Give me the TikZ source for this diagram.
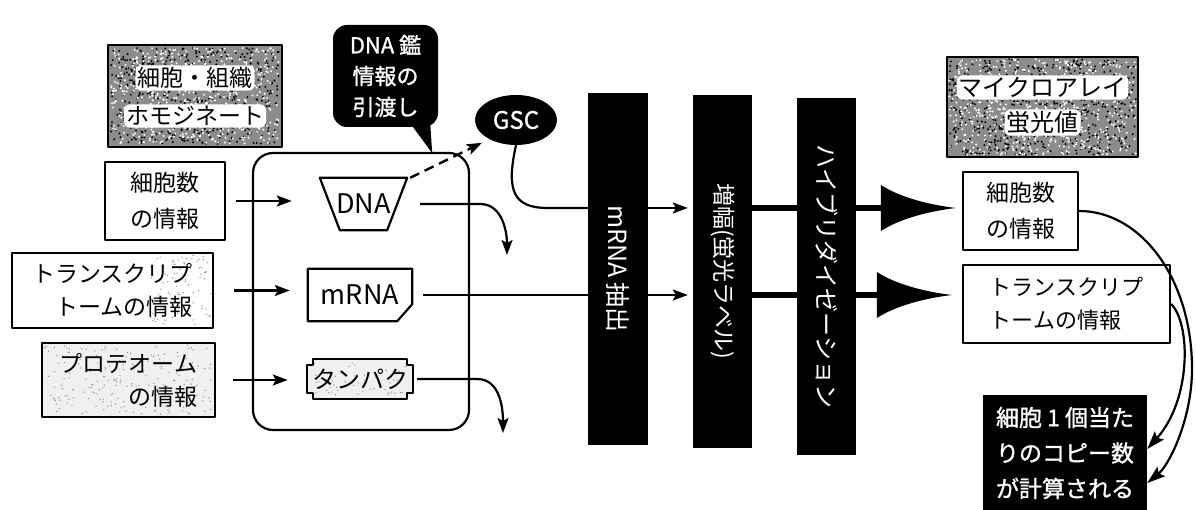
\documentclass[tikz,border=0pt]{standalone}
\usepackage{fontspec}
\setmainfont{Noto Sans CJK JP}
\newfontfamily\jpbold{Noto Sans CJK JP}[FakeBold=1.2]
\usetikzlibrary{arrows.meta,calc,shapes.geometric}
\pgfdeclarelayer{bg}
\pgfsetlayers{bg,main}
\newcommand{\speckle}[7]{%
  \foreach \k in {1,...,#5}{%
    \pgfmathsetmacro{\sxx}{#1+rnd*(#3-#1)}%
    \pgfmathsetmacro{\syy}{#2+rnd*(#4-#2)}%
    \fill[#6] (\sxx,\syy) circle[radius=#7];}}
\begin{document}
\begin{tikzpicture}[x=1pt,y=1pt,line join=round,
  bord/.style={draw=black,line width=2.2pt},
  box/.style={draw=black,line width=2.2pt,fill=white,inner sep=0pt,align=center,font=\fontsize{23}{35}\selectfont},
  plate/.style={fill=white,rounded corners=6pt,inner sep=2pt},
  bar/.style={fill=black,inner sep=0pt,minimum width=60pt},
  bartext/.style={text=white,rotate=-90,inner sep=0pt,font=\fontsize{23}{28}\selectfont},
  arr/.style={line width=2.2pt,-{Stealth[length=15pt,width=11pt,inset=3pt]}},
  arrtwo/.style={line width=2.2pt,-{Stealth[length=18pt,width=12pt,inset=3pt]}},
  heavy/.style={line width=5.5pt}]
\pgfmathsetseed{7}
\useasboundingbox (0,0) rectangle (1196,509);
\begin{pgfonlayer}{bg}
  \fill[white] (0,0) rectangle (1196,509);
\end{pgfonlayer}

% --- homogenate label box
\node[fill=black!45,inner sep=0pt,minimum width=174pt,minimum height=102pt] (homo) at (195,413) {};
\speckle{111}{365}{279}{461}{550}{black}{1.1pt}
\speckle{111}{365}{279}{461}{550}{white}{1.1pt}
\draw[bord] (homo.south west) rectangle (homo.north east);
\node[plate,font=\fontsize{23}{30}\selectfont] at ($(homo.center)+(0,18)$) {細胞・組織};
\node[plate,font=\fontsize{23}{30}\selectfont] at ($(homo.center)+(0,-20)$) {ホモジネート};

% --- speech bubble
\node[fill=black,rounded corners=14pt,minimum width=105pt,minimum height=102pt,inner sep=0pt,
      text=white,align=center,font=\jpbold\fontsize{22}{31}\selectfont] (bub) at (385.5,433) {DNA 鑑\\情報の\\引渡し};
\fill ([shift={(-28pt,4pt)}]bub.south east) -- ([shift={(-8pt,4pt)}]bub.south east) -- ([shift={(-6pt,-26pt)}]bub.south east) -- cycle;

% --- GSC
\node[ellipse,fill=black,minimum width=82pt,minimum height=50pt,inner sep=0pt,text=white,
      font=\jpbold\fontsize{24}{28}\selectfont] (gsc) at (516,389) {GSC};

% --- big rounded box
\node[draw=black,line width=2.2pt,rounded corners=20pt,minimum width=216pt,minimum height=277pt] (boxB) at (361,217.5) {};

% --- left info boxes
\node[box,minimum width=120pt,minimum height=78pt,font=\fontsize{23}{36}\selectfont] (cC) at (165,308) {細胞数\\の情報};
\node[box,fill=none,minimum width=201pt,minimum height=75pt,align=right,font=\fontsize{23}{33}\selectfont] (cD) at (112.5,218.5) {トランスクリプ\\トームの情報};
\node[box,fill=none,minimum width=173pt,minimum height=74pt,align=right,font=\fontsize{23}{33}\selectfont] (cE) at (128.5,129) {プロテオーム\\の情報};

% --- inner molecules
\node[inner sep=0pt,minimum width=87pt,minimum height=52pt,font=\fontsize{27}{30}\selectfont] (dna) at (363.5,305) {DNA};
\node[inner sep=0pt,minimum width=104pt,minimum height=52pt,font=\fontsize{27}{30}\selectfont] (mrna) at (360,214) {mRNA};
\node[inner sep=0pt,minimum width=106pt,minimum height=40pt,font=\fontsize{24}{28}\selectfont] (prot) at (360,130) {タンパク};

\begin{pgfonlayer}{bg}
  \fill[white] (cD.south west) rectangle (cD.north east);
  \speckle{150}{184}{211}{254}{90}{black!45}{0.7pt}
  \fill[gray!12] (cE.south west) rectangle (cE.north east);
  \speckle{44}{94}{213}{164}{200}{black!45}{0.7pt}
  \fill[gray!12] ([xshift=6pt]prot.north west) -- ([xshift=-6pt]prot.north east) -- ([shift={(-6pt,-6pt)}]prot.north east) -- ([yshift=-6pt]prot.north east) -- ([yshift=6pt]prot.south east) -- ([shift={(-6pt,6pt)}]prot.south east) -- ([xshift=-6pt]prot.south east) -- ([xshift=6pt]prot.south west) -- ([shift={(6pt,6pt)}]prot.south west) -- ([yshift=6pt]prot.south west) -- ([yshift=-6pt]prot.north west) -- ([shift={(6pt,-6pt)}]prot.north west) -- cycle;
  \speckle{314}{114}{406}{146}{50}{black!45}{0.7pt}
\end{pgfonlayer}
\draw[bord] (dna.north west) -- (dna.north east) -- ([xshift=-20pt]dna.south east) -- ([xshift=20pt]dna.south west) -- cycle;
\draw[bord] (mrna.north west) -- (mrna.north east) -- ([yshift=17pt]mrna.south east) -- ([xshift=-15pt]mrna.south east) -- (mrna.south west) -- cycle;
\draw[bord] ([xshift=6pt]prot.north west) -- ([xshift=-6pt]prot.north east) -- ([shift={(-6pt,-6pt)}]prot.north east) -- ([yshift=-6pt]prot.north east) -- ([yshift=6pt]prot.south east) -- ([shift={(-6pt,6pt)}]prot.south east) -- ([xshift=-6pt]prot.south east) -- ([xshift=6pt]prot.south west) -- ([shift={(6pt,6pt)}]prot.south west) -- ([yshift=6pt]prot.south west) -- ([yshift=-6pt]prot.north west) -- ([shift={(6pt,-6pt)}]prot.north west) -- cycle;

% --- process bars
\node[bar,minimum height=352pt] (bar1) at (618,240) {};
\node[bartext,font=\fontsize{25}{28}\selectfont] at (bar1) {mRNA 抽出};
\node[bar,minimum width=59pt,minimum height=353pt] (bar2) at (722.5,237.5) {};
\node[bartext] at (bar2) {増幅(蛍光ラベル)};
\node[bar,minimum width=59pt,minimum height=357pt] (bar3) at (826.5,232.5) {};
\node[bartext,font=\fontsize{24}{28}\selectfont] at (bar3) {ハイブリダイゼーション};

% --- microarray label box
\node[fill=black!45,inner sep=0pt,minimum width=191pt,minimum height=100pt] (mic) at (1042.5,402) {};
\speckle{949}{354}{1136}{450}{600}{black}{1.1pt}
\speckle{949}{354}{1136}{450}{600}{white}{1.1pt}
\draw[bord] (mic.south west) rectangle (mic.north east);
\node[plate,font=\fontsize{24}{30}\selectfont] at ($(mic.center)+(0,19.5)$) {マイクロアレイ};
\node[plate,font=\fontsize{24}{30}\selectfont] at ($(mic.center)+(0,-15.5)$) {蛍光値};

% --- right boxes
\node[box,minimum width=115pt,minimum height=78pt,align=left,font=\fontsize{23}{36}\selectfont] (G) at (1020.5,298) {細胞数\\の情報};
\node[box,minimum width=207pt,minimum height=78pt,align=left,font=\fontsize{22}{33}\selectfont] (H) at (1066.5,205) {トランスクリプ\\トームの情報};
\node[fill=black,text=white,inner sep=0pt,minimum width=164pt,minimum height=116pt,align=center,
      font=\jpbold\fontsize{23}{35.5}\selectfont] (I) at (1065,56) {細胞 1 個当た\\りのコピー数\\が計算される};

% --- coordinates
\coordinate (uy) at (0,301);
\coordinate (dnaout) at (507,254);
\coordinate (protout) at (503,76);

% --- left arrows
\draw[arr,shorten <=10pt,shorten >=28pt] (cC.east) -- (cC.east -| dna.west);
\draw[arr,shorten <=20pt,shorten >=18pt] (cD.east) -- (cD.east -| mrna.west);
\draw[arr,shorten <=17pt,shorten >=19pt] (cE.east) -- (cE.east -| prot.west);

% --- outputs of DNA and protein
\draw[arr] ([xshift=13pt]dna.east) -- ++(60,0) to[out=0,in=90] (dnaout);
\draw[arr] ([xshift=4pt]prot.east) -- ++(60,0) to[out=0,in=90] (protout);
\draw[arr,line width=2.4pt,dash pattern=on 10pt off 6pt] ([xshift=3pt]dna.north east) -- ([shift={(-5pt,-5pt)}]gsc.south west);

% --- GSC to extraction
\draw[line width=2.2pt] (gsc.south) .. controls +(-10,-45) and +(-35,0) .. ($(bar1.west |- uy)+(-40,0)$) -- (bar1.west |- uy);
\draw[arr,shorten >=5pt] (bar1.east |- uy) -- (bar2.west |- uy);
\draw[line width=2.2pt,shorten <=11pt] (mrna.east) -- (mrna.east -| bar1.west);
\draw[arr,shorten >=5pt] (bar1.east |- mrna.east) -- (bar2.west |- mrna.east);

% --- heavy arrows
\coordinate (tipU) at ($(G.west |- uy)+(-6,0)$);
\coordinate (tipL) at ($(H.west |- mrna.east)+(-10,0)$);
\draw[heavy] (bar2.east |- uy) -- (bar3.west |- uy);
\draw[heavy] (bar3.east |- uy) -- ($(tipU)+(-65,0)$);
\fill[shift={(tipU)}] (0,0) .. controls (-25,3) and (-55,10) .. (-75,23) -- (-75,-23) .. controls (-55,-10) and (-25,-3) .. (0,0) -- cycle;
\draw[heavy] (bar2.east |- mrna.east) -- (bar3.west |- mrna.east);
\draw[heavy] (bar3.east |- mrna.east) -- ($(tipL)+(-65,0)$);
\fill[shift={(tipL)}] (0,0) .. controls (-25,3) and (-55,10) .. (-75,23) -- (-75,-23) .. controls (-55,-10) and (-25,-3) .. (0,0) -- cycle;

% --- right curved arrows
\draw[arrtwo] (G.east) .. controls +(62,0) and +(0,90) .. (1192,140) .. controls +(0,-50) and +(22,18) .. ([yshift=-30pt]I.east);
\draw[arrtwo] (H.east) .. controls +(20,-20) and +(44,49) .. ([yshift=4pt]I.east);
\end{tikzpicture}
\end{document}
